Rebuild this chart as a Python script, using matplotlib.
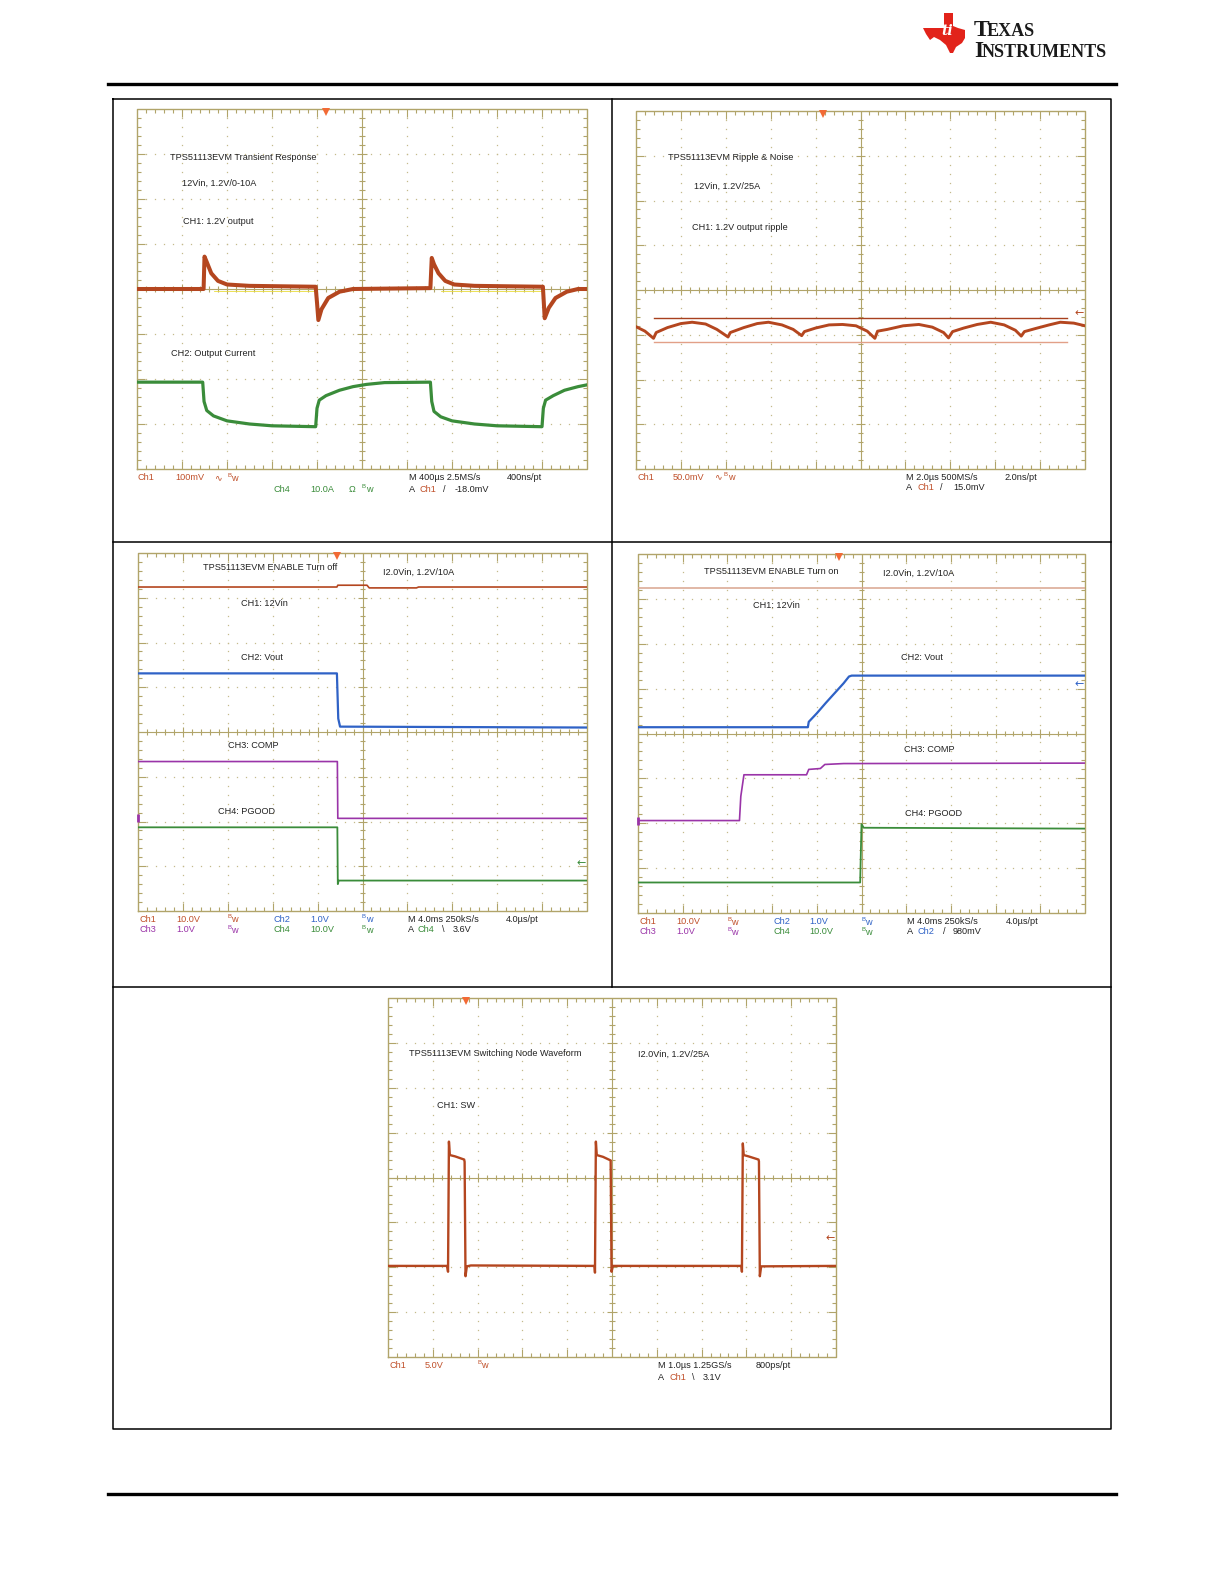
import numpy as np
import matplotlib
matplotlib.use("Agg")
import matplotlib.pyplot as plt

W, H = 1225, 1585

# ---------------------------------------------------------------
# Trace data, read off the scope shots, in graticule divisions
# (x: 0..10 div, y: -4..4 div, 0 = centre line)
# ---------------------------------------------------------------

# scope 1: transient response
s1_ch1_t = [0, 1.48, 1.5, 1.55, 1.65, 1.8, 2.0, 2.5, 3.97, 4.0, 4.03, 4.1, 4.25,
            4.5, 4.8, 6.52, 6.55, 6.6, 6.7, 6.85, 7.05, 7.5, 9.02, 9.04, 9.06,
            9.15, 9.3, 9.55, 9.8, 10]
s1_ch1_v = [0.0, 0.0, 0.72, 0.6, 0.35, 0.18, 0.1, 0.07, 0.05, -0.3, -0.69, -0.45,
            -0.2, -0.06, 0.0, 0.02, 0.69, 0.55, 0.35, 0.18, 0.1, 0.07, 0.05,
            -0.3, -0.65, -0.42, -0.2, -0.06, 0.0, 0.0]
s1_ref_t = [[1.7, 3.95], [6.75, 9.0]]
s1_ref_v = -0.05
s1_ch4_t = [0, 1.46, 1.49, 1.55, 1.7, 2.0, 2.5, 3.0, 3.97, 4.0, 4.05, 4.2, 4.5,
            4.8, 5.1, 5.5, 6.52, 6.55, 6.6, 6.75, 7.0, 7.5, 8.0, 9.0, 9.03, 9.08,
            9.25, 9.5, 9.8, 10]
s1_ch4_v = [-2.07, -2.07, -2.5, -2.7, -2.82, -2.93, -3.0, -3.04, -3.06, -2.65,
            -2.47, -2.37, -2.25, -2.17, -2.12, -2.08, -2.07, -2.5, -2.72, -2.84,
            -2.93, -3.0, -3.04, -3.06, -2.65, -2.47, -2.37, -2.25, -2.17, -2.13]

# scope 2: ripple & noise
s2_ch1_t = [0.0, 0.2, 0.39, 0.45, 0.7, 1.0, 1.25, 1.55, 1.8, 2.05, 2.1, 2.4, 2.7,
            2.95, 3.25, 3.5, 3.69, 3.75, 4.0, 4.3, 4.6, 4.9, 5.15, 5.32, 5.38,
            5.6, 5.95, 6.3, 6.6, 6.85, 6.96, 7.05, 7.3, 7.6, 7.9, 8.2, 8.45,
            8.58, 8.65, 8.9, 9.2, 9.45, 9.75, 10.0]
s2_ch1_v = [-0.82, -0.92, -1.08, -0.95, -0.84, -0.75, -0.72, -0.76, -0.88, -1.05,
            -0.95, -0.84, -0.75, -0.72, -0.78, -0.88, -1.02, -0.93, -0.85, -0.78,
            -0.77, -0.8, -0.92, -1.08, -0.92, -0.88, -0.8, -0.77, -0.83, -0.95,
            -1.07, -0.93, -0.85, -0.77, -0.72, -0.78, -0.9, -1.03, -0.93, -0.86,
            -0.78, -0.72, -0.74, -0.8]
s2_cursor_t = [0.41, 9.61]
s2_cursor_hi = -0.63
s2_cursor_lo = -1.16

# scope 3: enable turn off
s3_ch1_t = [0, 4.43, 4.45, 5.1, 5.15, 6.2, 6.25, 10]
s3_ch1_v = [3.24, 3.24, 3.28, 3.28, 3.22, 3.22, 3.24, 3.24]
s3_ch2_t = [0, 4.43, 4.46, 4.5, 10]
s3_ch2_v = [1.31, 1.31, 0.3, 0.12, 0.1]
s3_ch3_t = [0, 4.44, 4.45, 10]
s3_ch3_v = [-0.66, -0.66, -1.93, -1.93]
s3_ch4_t = [0, 4.44, 4.45, 4.47, 10]
s3_ch4_v = [-2.13, -2.13, -3.4, -3.32, -3.32]

# scope 4: enable turn on
s4_ch1_t = [0, 10]
s4_ch1_v = [3.24, 3.24]
s4_ch2_t = [0, 3.8, 3.82, 4.0, 4.2, 4.4, 4.6, 4.72, 4.78, 10]
s4_ch2_v = [0.14, 0.14, 0.26, 0.45, 0.68, 0.9, 1.12, 1.27, 1.29, 1.29]
s4_ch3_t = [0, 2.27, 2.3, 2.37, 3.77, 3.82, 4.08, 4.18, 4.6, 10]
s4_ch3_v = [-1.94, -1.94, -1.4, -0.92, -0.92, -0.8, -0.78, -0.69, -0.67, -0.66]
s4_ch4_t = [0, 4.97, 5.0, 5.05, 10]
s4_ch4_v = [-3.32, -3.32, -2.02, -2.1, -2.12]

# scope 5: switching node
s5_ch1_t = [0, 1.32, 1.34, 1.36, 1.38, 1.5, 1.7, 1.71, 1.73, 1.76, 1.85, 4.61,
            4.62, 4.64, 4.66, 4.8, 4.97, 4.99, 5.02, 7.89, 7.9, 7.92, 7.94, 8.05,
            8.27, 8.28, 8.3, 8.33, 10]
s5_ch1_v = [-1.97, -1.97, -2.1, 0.8, 0.5, 0.47, 0.4, 0.35, -2.2, -1.98, -1.96,
            -1.97, -2.12, 0.8, 0.5, 0.46, 0.38, -2.1, -1.97, -1.97, -2.1, 0.76,
            0.5, 0.47, 0.4, 0.36, -2.2, -1.98, -1.97]

# trigger position (div) and ground arrows (div)
trig_x = [4.2, 4.17, 4.44, 4.5, 1.74]
arrow_y = {2: -0.51, 3: -2.94, 4: 1.1, 5: -1.34}

GRID = "#b1a46a"
DOT = "#c4ba8c"
RED = "#b4461f"
RED_T = "#c0502a"
GREEN = "#3a8c3a"
BLUE = "#2f62c6"
PURPLE = "#9a34a8"
DARK = "#222222"

plt.rcParams["font.family"] = ["Liberation Sans", "DejaVu Sans"]
plt.rcParams["mathtext.fontset"] = "dejavusans"

fig = plt.figure(figsize=(W / 100, H / 100), dpi=100)
fig.patch.set_facecolor("white")


def px_axes(x0, y0, x1, y1):
    return fig.add_axes([x0 / W, 1 - y1 / H, (x1 - x0) / W, (y1 - y0) / H])


def graticule(ax, trig):
    ax.set_xlim(0, 10)
    ax.set_ylim(-4, 4)
    ax.axis("off")
    fine_x = np.round(np.arange(0.2, 10.0, 0.2), 2)
    fine_y = np.round(np.arange(-3.8, 4.0, 0.2), 2)
    minor_x = [v for v in fine_x if abs(v - round(v)) > 1e-6]
    minor_y = [v for v in fine_y if abs(v - round(v)) > 1e-6]
    major_x = [i for i in range(1, 10)]
    major_y = [j for j in range(-3, 4)]
    lw = 0.8
    # dotted division lines
    for i in major_x:
        if i != 5:
            ax.plot([i] * len(fine_y), fine_y, ls="none", marker="s", ms=0.9,
                    mew=0, color=DOT, zorder=1)
    for j in major_y:
        if j != 0:
            ax.plot(fine_x, [j] * len(fine_x), ls="none", marker="s", ms=0.9,
                    mew=0, color=DOT, zorder=1)
    # centre cross
    ax.plot([5, 5], [-4, 4], color=GRID, lw=lw, zorder=1)
    ax.plot([0, 10], [0, 0], color=GRID, lw=lw, zorder=1)
    ax.vlines(minor_x, -0.06, 0.06, color=GRID, lw=lw, zorder=1)
    ax.vlines(major_x, -0.11, 0.11, color=GRID, lw=lw, zorder=1)
    ax.hlines(minor_y, 4.94, 5.06, color=GRID, lw=lw, zorder=1)
    ax.hlines(major_y, 4.89, 5.11, color=GRID, lw=lw, zorder=1)
    # border ticks
    ax.vlines(minor_x, 3.92, 4, color=GRID, lw=lw, zorder=1)
    ax.vlines(minor_x, -4, -3.92, color=GRID, lw=lw, zorder=1)
    ax.vlines(major_x, 3.82, 4, color=GRID, lw=lw, zorder=1)
    ax.vlines(major_x, -4, -3.82, color=GRID, lw=lw, zorder=1)
    ax.hlines(minor_y, 0, 0.08, color=GRID, lw=lw, zorder=1)
    ax.hlines(minor_y, 9.92, 10, color=GRID, lw=lw, zorder=1)
    ax.hlines(major_y, 0, 0.18, color=GRID, lw=lw, zorder=1)
    ax.hlines(major_y, 9.82, 10, color=GRID, lw=lw, zorder=1)
    ax.plot([0, 10, 10, 0, 0], [-4, -4, 4, 4, -4], color=GRID, lw=1.0,
            clip_on=False, zorder=1)
    ax.plot([trig], [3.93], marker="v", ms=6, mew=0, color="#f26a35",
            clip_on=False, zorder=5)


# ---------------- scope 1 ----------------
ax1 = px_axes(137, 109, 587, 469)
graticule(ax1, trig_x[0])
for seg in s1_ref_t:
    ax1.plot(seg, [s1_ref_v, s1_ref_v], color="#e9dc3c", lw=0.6, zorder=2)
ax1.plot(s1_ch1_t, s1_ch1_v, color=RED, lw=2.9, zorder=3)
ax1.plot(s1_ch4_t, s1_ch4_v, color=GREEN, lw=2.3, zorder=3)

# ---------------- scope 2 ----------------
ax2 = px_axes(636, 111, 1085, 469)
graticule(ax2, trig_x[1])
ax2.plot(s2_cursor_t, [s2_cursor_hi] * 2, color="#a8401e", lw=1.0, zorder=2)
ax2.plot(s2_cursor_t, [s2_cursor_lo] * 2, color="#e2a088", lw=1.0, zorder=2)
ax2.plot(s2_ch1_t, s2_ch1_v, color=RED, lw=2.1, zorder=3)
ax2.text(9.97, arrow_y[2], "\u2190", color=RED, fontsize=8, ha="right",
         va="center", family="DejaVu Sans")

# ---------------- scope 3 ----------------
ax3 = px_axes(138, 553, 587, 911)
graticule(ax3, trig_x[2])
ax3.plot(s3_ch1_t, s3_ch1_v, color=RED, lw=1.2, zorder=3)
ax3.plot(s3_ch2_t, s3_ch2_v, color=BLUE, lw=1.6, zorder=3)
ax3.plot(s3_ch3_t, s3_ch3_v, color=PURPLE, lw=1.2, zorder=3)
ax3.plot(s3_ch4_t, s3_ch4_v, color=GREEN, lw=1.3, zorder=3)
ax3.plot([0], [s3_ch3_v[-1]], marker="|", ms=6, mew=2, color=PURPLE,
         clip_on=False, zorder=4)
ax3.text(9.97, arrow_y[3], "\u2190", color=GREEN, fontsize=8, ha="right",
         va="center", family="DejaVu Sans")

# ---------------- scope 4 ----------------
ax4 = px_axes(638, 554, 1085, 913)
graticule(ax4, trig_x[3])
ax4.plot(s4_ch1_t, s4_ch1_v, color="#d9a48e", lw=1.1, zorder=3)
ax4.plot(s4_ch2_t, s4_ch2_v, color=BLUE, lw=1.6, zorder=3)
ax4.plot(s4_ch3_t, s4_ch3_v, color=PURPLE, lw=1.2, zorder=3)
ax4.plot(s4_ch4_t, s4_ch4_v, color=GREEN, lw=1.3, zorder=3)
ax4.plot([0], [s4_ch3_v[0]], marker="|", ms=6, mew=2, color=PURPLE,
         clip_on=False, zorder=4)
ax4.text(9.97, arrow_y[4], "\u2190", color=BLUE, fontsize=8, ha="right",
         va="center", family="DejaVu Sans")

# ---------------- scope 5 ----------------
ax5 = px_axes(388, 998, 836, 1357)
graticule(ax5, trig_x[4])
ax5.plot(s5_ch1_t, s5_ch1_v, color=RED, lw=1.7, zorder=3)
ax5.text(9.97, arrow_y[5], "\u2190", color=RED, fontsize=8, ha="right",
         va="center", family="DejaVu Sans")

# ---------------- page furniture + labels ----------------
pg = fig.add_axes([0, 0, 1, 1])
pg.set_xlim(0, W)
pg.set_ylim(H, 0)
pg.axis("off")

pg.plot([108, 1116], [84, 84], color="black", lw=2.4)
pg.plot([108, 1116], [1494, 1494], color="black", lw=2.4)
pg.plot([113, 1111, 1111, 113, 113], [99, 99, 1429, 1429, 99], color="black", lw=1.1)
pg.plot([612, 612], [99, 987], color="black", lw=1.1)
pg.plot([113, 1111], [542, 542], color="black", lw=1.1)
pg.plot([113, 1111], [987, 987], color="black", lw=1.1)

# TI logo (rough Texas outline)
logo_x = [944, 953, 953, 958, 965, 965, 962, 956, 953, 950, 946, 940, 934, 930,
          926, 923, 944]
logo_y = [13, 13, 26, 28, 30, 38, 43, 47, 53, 53, 45, 40, 37, 40, 34, 28, 28]
pg.fill(logo_x, logo_y, color="#e2231a", lw=0)
pg.text(947, 31, "ti", color="white", fontsize=10, fontweight="bold",
        style="italic", ha="center", va="center", family="DejaVu Serif")
pg.text(974, 36.5, "T", fontsize=17, family="Liberation Serif", color="#1a1a1a",
        fontweight="bold", va="baseline", ha="left")
pg.text(987, 36.5, "EXAS", fontsize=13, family="Liberation Serif", color="#1a1a1a",
        fontweight="bold", va="baseline", ha="left")
pg.text(974, 57, "I", fontsize=17, family="Liberation Serif", color="#1a1a1a",
        fontweight="bold", va="baseline", ha="left")
pg.text(982, 57, "NSTRUMENTS", fontsize=13, family="Liberation Serif",
        fontweight="bold", color="#1a1a1a", va="baseline", ha="left")

FS = 6.6


def lab(x, y, s, c=DARK):
    pg.text(x, y, s, color=c, fontsize=FS, ha="left", va="center")


def bw(x, y, c):
    pg.text(x, y - 2.5, "B", color=c, fontsize=4.3, ha="left", va="center")
    pg.text(x + 4, y + 0.5, "w", color=c, fontsize=FS, ha="left", va="center")


# scope 1 text
lab(170, 157, "TPS51113EVM Transient Response")
lab(182, 183, "12Vin, 1.2V/0-10A")
lab(183, 222, "CH1: 1.2V output")
lab(171, 353, "CH2: Output Current")
lab(138, 478, "Ch1", RED_T)
lab(175, 478, "100mV", RED_T)
pg.text(214, 478, "\u223f", color=RED_T, fontsize=FS, va="center", family="DejaVu Sans")
bw(227, 478, RED_T)
lab(409, 478, "M 400\u00b5s 2.5MS/s")
lab(507, 478, "400ns/pt")
lab(274, 489, "Ch4", GREEN)
lab(310, 489, "10.0A", GREEN)
lab(349, 489, "\u03a9", GREEN)
bw(362, 489, GREEN)
lab(409, 489, "A")
lab(419, 489, "Ch1", RED_T)
lab(443, 489, "/")
lab(455, 489, "-18.0mV")

# scope 2 text
lab(668, 158, "TPS51113EVM Ripple & Noise")
lab(694, 186, "12Vin, 1.2V/25A")
lab(692, 228, "CH1: 1.2V output ripple")
lab(637, 477, "Ch1", RED_T)
lab(673, 477, "50.0mV", RED_T)
pg.text(714, 477, "\u223f", color=RED_T, fontsize=FS, va="center", family="DejaVu Sans")
bw(724, 477, RED_T)
lab(906, 477, "M 2.0\u00b5s 500MS/s")
lab(1004, 477, "2.0ns/pt")
lab(906, 488, "A")
lab(917, 488, "Ch1", RED_T)
lab(940, 488, "/")
lab(953, 488, "15.0mV")

# scope 3 text
lab(203, 568, "TPS51113EVM ENABLE Turn off")
lab(383, 572, "I2.0Vin, 1.2V/10A")
lab(241, 603, "CH1: 12Vin")
lab(241, 657, "CH2: Vout")
lab(228, 746, "CH3: COMP")
lab(218, 812, "CH4: PGOOD")
lab(139, 919, "Ch1", RED_T)
lab(176, 919, "10.0V", RED_T)
bw(227, 919, RED_T)
lab(273, 919, "Ch2", BLUE)
lab(310, 919, "1.0V", BLUE)
bw(362, 919, BLUE)
lab(408, 919, "M 4.0ms 250kS/s")
lab(506, 919, "4.0\u00b5s/pt")
lab(139, 930, "Ch3", PURPLE)
lab(176, 930, "1.0V", PURPLE)
bw(227, 930, PURPLE)
lab(273, 930, "Ch4", GREEN)
lab(310, 930, "10.0V", GREEN)
bw(362, 930, GREEN)
lab(408, 930, "A")
lab(418, 930, "Ch4", GREEN)
lab(442, 930, "\\")
lab(453, 930, "3.6V")

# scope 4 text
lab(704, 571, "TPS51113EVM ENABLE Turn on")
lab(883, 573, "I2.0Vin, 1.2V/10A")
lab(753, 606, "CH1: 12Vin")
lab(901, 658, "CH2: Vout")
lab(904, 750, "CH3: COMP")
lab(905, 814, "CH4: PGOOD")
lab(639, 922, "Ch1", RED_T)
lab(676, 922, "10.0V", RED_T)
bw(727, 922, RED_T)
lab(774, 922, "Ch2", BLUE)
lab(809, 922, "1.0V", BLUE)
bw(861, 922, BLUE)
lab(907, 922, "M 4.0ms 250kS/s")
lab(1006, 922, "4.0\u00b5s/pt")
lab(639, 932, "Ch3", PURPLE)
lab(676, 932, "1.0V", PURPLE)
bw(727, 932, PURPLE)
lab(774, 932, "Ch4", GREEN)
lab(809, 932, "10.0V", GREEN)
bw(861, 932, GREEN)
lab(907, 932, "A")
lab(918, 932, "Ch2", BLUE)
lab(943, 932, "/")
lab(953, 932, "980mV")

# scope 5 text
lab(409, 1053, "TPS51113EVM Switching Node Waveform")
lab(638, 1054, "I2.0Vin, 1.2V/25A")
lab(437, 1105, "CH1: SW")
lab(389, 1365, "Ch1", RED_T)
lab(425, 1365, "5.0V", RED_T)
bw(477, 1365, RED_T)
lab(658, 1366, "M 1.0\u00b5s 1.25GS/s")
lab(756, 1366, "800ps/pt")
lab(658, 1377, "A")
lab(669, 1377, "Ch1", RED_T)
lab(692, 1377, "\\")
lab(703, 1377, "3.1V")

fig.savefig("out.png", dpi=100, facecolor="white")
